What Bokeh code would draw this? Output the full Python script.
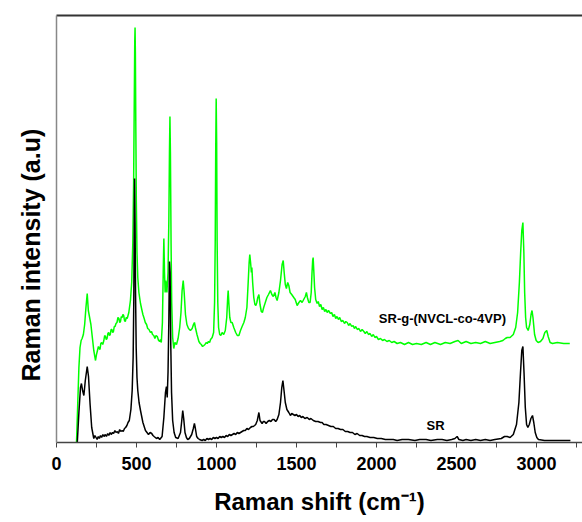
from bokeh.plotting import figure
from bokeh.models import Range1d, FixedTicker, LinearAxis, Label, Title
from bokeh.embed import file_html
from bokeh.resources import INLINE

# Raman spectrum of plain silicone rubber (SR): (shift in cm-1, intensity a.u.)
sr_points = [
    (130, 0), (140, 30), (150, 55), (156, 59), (163, 52), (171, 47), (180, 62), (192, 76),
    (200, 66), (210, 38), (220, 15),
    (233, 4), (240, 7), (247, 5), (254, 3), (261, 6), (268, 4), (275, 7), (282, 5), (290, 8),
    (297, 6), (305, 8), (312, 6), (320, 9), (327, 7), (335, 10), (342, 8), (350, 10), (357, 9),
    (365, 12), (372, 10), (380, 11), (387, 9), (395, 13), (402, 11), (410, 12), (417, 11),
    (425, 14), (432, 15), (440, 17), (447, 20),
    (455, 22), (465, 33), (473, 52), (479, 85), (483, 140), (486, 220), (488, 264), (491, 220),
    (494, 150), (498, 95), (503, 65), (508, 52), (516, 40), (525, 32), (540, 20), (556, 12),
    (575, 8), (585, 10), (595, 9), (603, 7), (610, 6), (625, 4), (635, 5), (645, 3), (660, 6),
    (671, 25), (681, 50), (687, 56), (692, 45), (697, 70), (702, 120), (706, 181), (710, 170),
    (714, 100), (719, 50), (726, 22), (735, 10), (745, 5), (760, 4), (775, 10), (783, 22),
    (789, 32), (795, 24), (803, 10), (812, 5), (820, 3), (830, 4), (845, 8), (855, 14),
    (862, 19), (868, 14), (876, 6), (885, 4), (894, 3),
    (910, 2), (920, 3), (930, 2), (940, 4), (950, 3), (960, 4), (970, 3), (980, 5), (990, 4),
    (1000, 5), (1010, 4), (1020, 6), (1030, 5), (1040, 6), (1050, 5), (1060, 7), (1070, 6),
    (1080, 8), (1090, 7), (1100, 8), (1110, 9), (1120, 8), (1130, 10), (1140, 9), (1150, 10),
    (1160, 11), (1170, 12), (1180, 12), (1190, 14), (1200, 13), (1212, 15), (1222, 16),
    (1230, 16), (1238, 17), (1245, 18),
    (1255, 22), (1265, 30), (1272, 22), (1285, 19), (1293, 21), (1300, 21), (1310, 19),
    (1320, 21), (1330, 22), (1340, 21), (1350, 23), (1360, 23), (1370, 21), (1379, 23),
    (1390, 28), (1400, 40), (1408, 55), (1415, 62), (1422, 52), (1430, 40),
    (1440, 33), (1452, 30), (1462, 27), (1470, 29), (1480, 28), (1490, 27), (1500, 28),
    (1510, 26), (1520, 27), (1530, 25), (1540, 26), (1552, 24), (1567, 25), (1580, 23),
    (1590, 24), (1605, 22), (1620, 21), (1635, 21), (1650, 20), (1660, 20), (1671, 18),
    (1685, 18), (1700, 17), (1715, 16), (1730, 16), (1745, 14), (1760, 14), (1775, 13),
    (1790, 13), (1805, 11), (1820, 11), (1835, 10), (1850, 10), (1865, 8), (1879, 9),
    (1895, 7), (1910, 7), (1925, 6), (1940, 6), (1960, 5), (1983, 5), (2005, 4), (2030, 4),
    (2055, 3), (2080, 3), (2105, 3), (2129, 2),
    (2160, 3), (2200, 3), (2240, 2), (2270, 3), (2310, 3), (2340, 2), (2380, 3), (2410, 3),
    (2440, 2), (2470, 3), (2490, 4), (2504, 6), (2515, 3), (2540, 2), (2560, 3), (2590, 2),
    (2620, 3), (2650, 2), (2680, 3), (2710, 2), (2740, 3), (2780, 4), (2800, 6), (2817, 6),
    (2835, 5), (2855, 8), (2875, 18), (2890, 40), (2900, 70), (2908, 92), (2915, 96),
    (2922, 70), (2930, 35), (2938, 18), (2946, 15), (2955, 18), (2965, 24), (2975, 27),
    (2983, 20), (2992, 10), (3002, 5), (3012, 3), (3050, 2), (3100, 2), (3150, 2), (3212, 2),
]

# Raman spectrum of the grafted copolymer SR-g-(NVCL-co-4VP)
graft_points = [
    (125, 0), (133, 40), (140, 75), (147, 95), (154, 102), (160, 104), (168, 108), (176, 118),
    (184, 135), (192, 149), (199, 132), (207, 125), (215, 118), (224, 105), (233, 92),
    (244, 82), (250, 88), (256, 92), (262, 96), (267, 94), (272, 93), (277, 99), (282, 100),
    (289, 98), (296, 102), (301, 107), (306, 106), (311, 103), (316, 104), (321, 109),
    (326, 110), (331, 107), (336, 108), (341, 113), (346, 113), (351, 110), (356, 111),
    (361, 116), (366, 116), (372, 119), (378, 120), (384, 125), (390, 124), (395, 120),
    (400, 121), (405, 126), (410, 125), (415, 128), (420, 127), (425, 122), (430, 121),
    (436, 125), (442, 124), (447, 127), (452, 130),
    (462, 142), (470, 160), (477, 200), (482, 260), (486, 340), (489, 400), (491, 415),
    (493, 390), (496, 310), (499, 240), (503, 190), (508, 165), (515, 150), (525, 139),
    (533, 133), (540, 128), (548, 124), (555, 120), (563, 118), (570, 114), (578, 113),
    (587, 110), (594, 111), (600, 108), (608, 107), (615, 104), (622, 107), (630, 106),
    (638, 102), (645, 101), (650, 103), (655, 100), (662, 120), (667, 170), (671, 204),
    (675, 170), (679, 150), (683, 162), (690, 150), (697, 170), (702, 220), (706, 290),
    (709, 326), (712, 290), (716, 200), (720, 140), (726, 105), (733, 94), (740, 100),
    (750, 98), (760, 104), (770, 115), (778, 130), (785, 152), (792, 162), (798, 150),
    (806, 128), (815, 118), (825, 114), (837, 112), (848, 114), (856, 118), (862, 120),
    (868, 115), (878, 108), (890, 101), (898, 99), (905, 98), (913, 96), (921, 97),
    (928, 98), (935, 100), (942, 99), (950, 101), (957, 100), (963, 103), (973, 105),
    (982, 110), (988, 140), (992, 200), (995, 290), (998, 344), (1001, 300), (1004, 200),
    (1008, 140), (1013, 115), (1020, 108), (1027, 107), (1035, 110), (1045, 108),
    (1055, 112), (1064, 125), (1070, 145), (1073, 152), (1077, 140), (1083, 125),
    (1090, 120), (1098, 120), (1108, 115), (1120, 110), (1130, 107), (1140, 107),
    (1150, 112), (1160, 116), (1171, 120), (1180, 125), (1190, 135), (1198, 160),
    (1204, 180), (1208, 188), (1213, 180), (1218, 170), (1221, 175), (1226, 160),
    (1233, 145), (1240, 138), (1246, 137), (1252, 140), (1258, 145), (1265, 148),
    (1272, 138), (1280, 131), (1287, 130), (1295, 135), (1305, 140), (1315, 145),
    (1325, 148), (1337, 152), (1346, 148), (1355, 146), (1365, 150), (1372, 145),
    (1379, 142), (1390, 150), (1400, 162), (1410, 178), (1417, 182), (1423, 170),
    (1430, 158), (1437, 154), (1445, 160), (1452, 157), (1460, 150), (1470, 148),
    (1483, 145), (1492, 143), (1504, 137), (1515, 140), (1525, 142), (1535, 140),
    (1545, 143), (1555, 146), (1562, 150), (1568, 145), (1577, 140), (1585, 140),
    (1592, 150), (1597, 170), (1601, 182), (1604, 185), (1608, 172), (1613, 155),
    (1620, 143), (1629, 139), (1636, 141), (1644, 136), (1652, 138), (1660, 133),
    (1668, 135), (1676, 131), (1684, 133), (1692, 130), (1700, 132), (1712, 129),
    (1720, 130), (1728, 126), (1737, 128), (1745, 124), (1753, 126), (1762, 123),
    (1770, 125), (1780, 121), (1790, 122), (1800, 119), (1808, 121), (1817, 120),
    (1826, 117), (1835, 119), (1845, 116), (1854, 117), (1862, 114), (1870, 116),
    (1880, 113), (1890, 114), (1900, 111), (1910, 113), (1921, 111), (1930, 109),
    (1940, 111), (1950, 108), (1960, 109), (1970, 106), (1980, 108), (1990, 105),
    (2000, 106), (2012, 103), (2025, 104), (2038, 102), (2050, 103), (2065, 101),
    (2080, 102), (2095, 100), (2110, 101), (2129, 99),
    (2150, 100), (2175, 98), (2200, 100), (2225, 98), (2250, 99), (2280, 98), (2310, 100),
    (2337, 98), (2365, 100), (2400, 98), (2430, 100), (2460, 99), (2490, 101), (2510, 102),
    (2530, 99), (2560, 101), (2590, 99), (2620, 100), (2650, 99), (2680, 101), (2710, 99),
    (2740, 100), (2770, 101),
    (2790, 102), (2805, 104), (2817, 105), (2835, 105), (2855, 108), (2870, 115),
    (2882, 130), (2893, 160), (2901, 190), (2908, 212), (2915, 220), (2921, 190),
    (2926, 150), (2932, 125), (2938, 115), (2948, 112), (2958, 118), (2966, 128),
    (2972, 132), (2978, 125), (2988, 108), (2998, 102), (3010, 100), (3025, 101),
    (3040, 104), (3052, 110), (3064, 112), (3073, 106), (3085, 100), (3100, 99),
    (3130, 100), (3170, 99), (3208, 99),
]

xticks = [0, 500, 1000, 1500, 2000, 2500, 3000]
xminor = [250, 750, 1250, 1750, 2250, 2750, 3250]

FONT = "Liberation Sans"

sr_x = [pt[0] for pt in sr_points]
sr_y = [pt[1] for pt in sr_points]
gr_x = [pt[0] for pt in graft_points]
gr_y = [pt[1] for pt in graft_points]

p = figure(
    width=582, height=522,
    output_backend="svg", toolbar_location=None,
    x_range=Range1d(0, 3287.5), y_range=Range1d(0, 427),
    min_border_left=56, min_border_right=0,
    min_border_top=15, min_border_bottom=80,
    background_fill_color="white", border_fill_color="white",
)
p.xgrid.visible = False
p.ygrid.visible = False
p.outline_line_color = None

# spectra
p.line(gr_x, gr_y, line_color="#00ff00", line_width=1.5)
p.line(sr_x, sr_y, line_color="#000000", line_width=1.5)

# curve labels
p.add_layout(Label(x=2412, y=124, text="SR-g-(NVCL-co-4VP)", text_font=FONT,
                   text_font_style="bold", text_font_size="13px", text_color="black",
                   text_align="center", text_baseline="middle"))
p.add_layout(Label(x=2369, y=17, text="SR", text_font=FONT,
                   text_font_style="bold", text_font_size="13px", text_color="black",
                   text_align="center", text_baseline="middle"))

# bottom axis
xa = p.xaxis[0]
xa.ticker = FixedTicker(ticks=xticks, minor_ticks=xminor)
xa.axis_line_color = "#444444"
xa.axis_line_width = 1.5
xa.major_tick_line_color = "#444444"
xa.minor_tick_line_color = "#444444"
xa.major_tick_in = 0
xa.major_tick_out = 5
xa.minor_tick_in = 0
xa.minor_tick_out = 5
xa.major_label_text_font = FONT
xa.major_label_text_font_style = "bold"
xa.major_label_text_font_size = "18px"
xa.major_label_text_color = "black"
xa.major_label_standoff = 9
xa.axis_label = "Raman shift (cm\u207b\u00b9)"
xa.axis_label_text_font = FONT
xa.axis_label_text_font_style = "bold"
xa.axis_label_text_font_size = "24px"
xa.axis_label_text_color = "black"
xa.axis_label_standoff = 15

# left axis: plain line, no ticks, no reserved space
ya = p.yaxis[0]
ya.ticker = FixedTicker(ticks=[])
ya.axis_line_color = "#888888"
ya.axis_line_width = 1.5
ya.major_tick_line_color = None
ya.minor_tick_line_color = None
ya.major_tick_in = 0
ya.major_tick_out = 0
ya.minor_tick_in = 0
ya.minor_tick_out = 0
ya.major_label_standoff = 0

# vertical intensity title, left of the frame, shifted toward the bottom
ytitle = Title(text="Raman intensity (a.u)", align="left", offset=61,
               text_font=FONT, text_font_style="bold", text_font_size="25px",
               text_color="black", standoff=24)
p.add_layout(ytitle, "left")

# top frame line
top = LinearAxis(ticker=FixedTicker(ticks=[]), axis_line_color="#333333",
                 axis_line_width=2, major_tick_line_color=None,
                 minor_tick_line_color=None)
p.add_layout(top, "above")

open("out.html", "w").write(file_html(p, INLINE))
